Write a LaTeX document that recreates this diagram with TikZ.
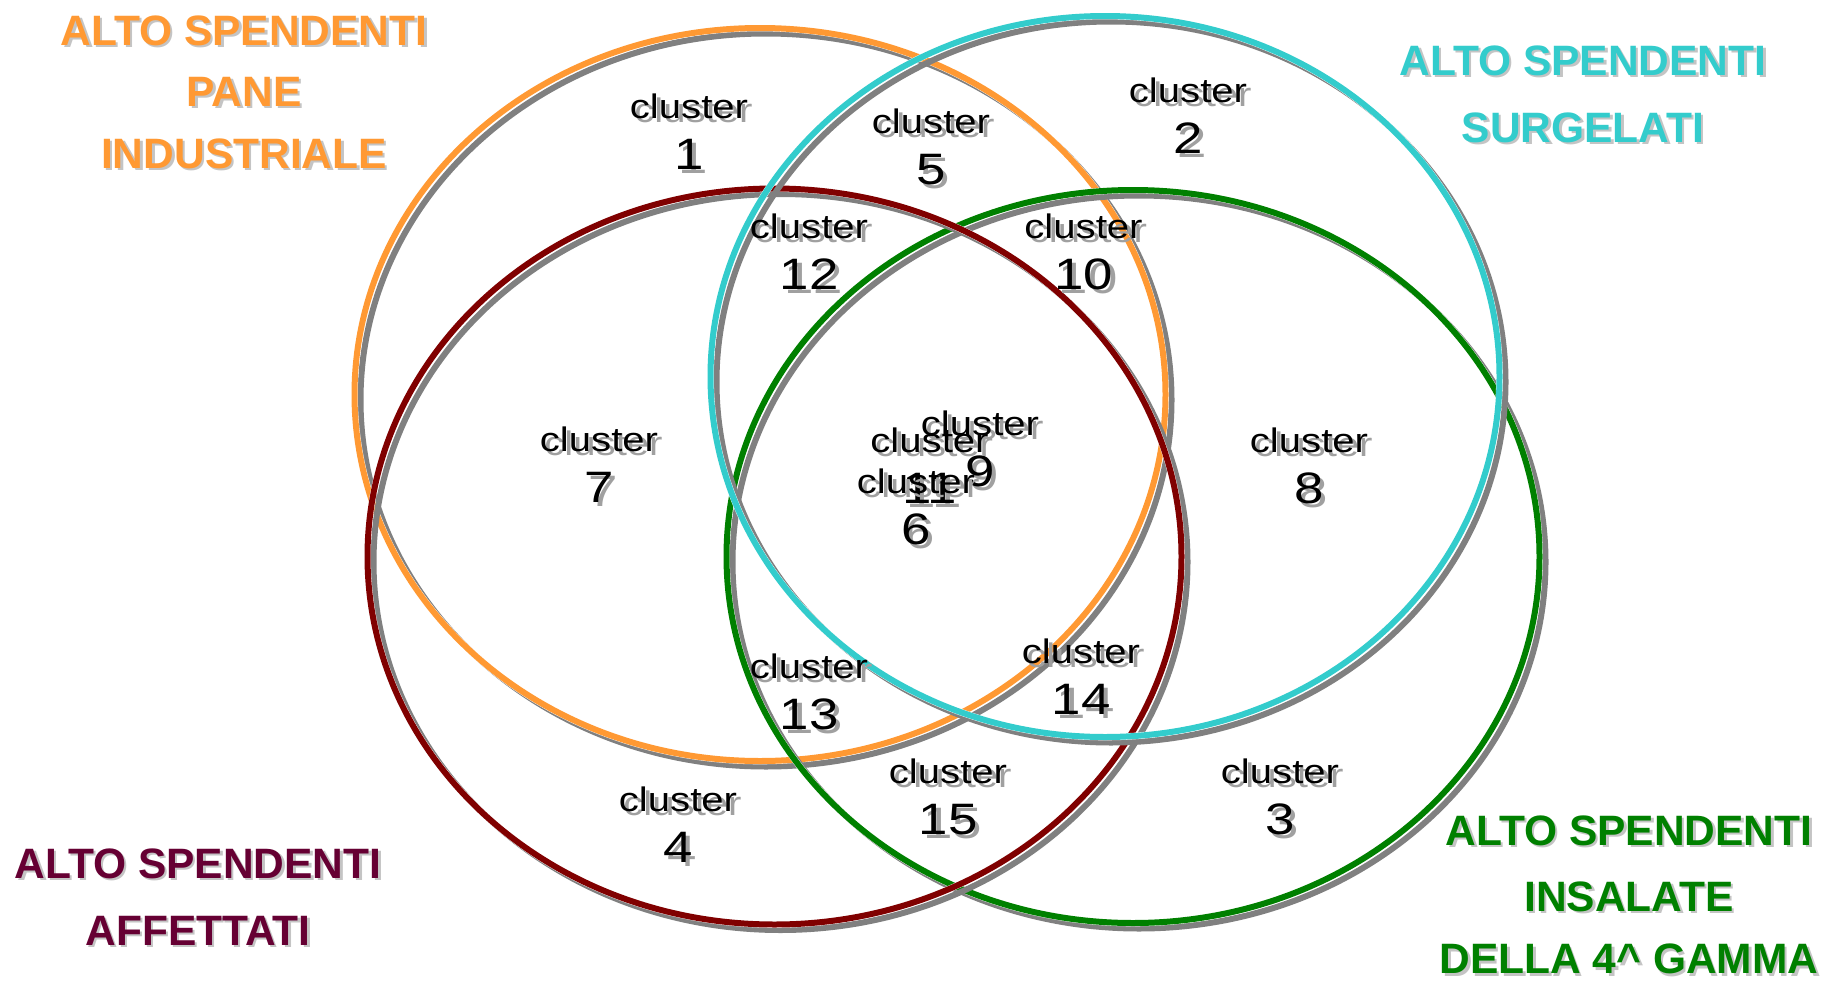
\documentclass[tikz,border=0pt]{standalone}
\usepackage{fontspec}
\setmainfont{Liberation Sans}
\newfontfamily\clusterfont[FakeStretch=1.18]{Liberation Sans}
\newfontfamily\numberfont[FakeStretch=1.2]{Liberation Sans}

\definecolor{paneorange}{HTML}{FF9933}
\definecolor{surgcyan}{HTML}{33CCCC}
\definecolor{insgreen}{HTML}{008000}
\definecolor{affred}{HTML}{800000}
\definecolor{afftext}{HTML}{660033}
\definecolor{ringgray}{HTML}{808080}
\definecolor{wordgray}{HTML}{A0A0A0}
\definecolor{titlegray}{HTML}{C4C4C4}

\tikzset{
  ringshadow/.style={draw=ringgray, line width=6pt},
  ringgap/.style={draw=white, line width=6.6pt},
  ring/.style={line width=6pt},
  word/.style={font=\clusterfont\fontsize{34}{34}\selectfont, inner sep=0pt, anchor=base},
  number/.style={font=\numberfont\fontsize{44}{44}\selectfont, inner sep=0pt, anchor=base},
  heading/.style={font=\fontsize{42.5}{42.5}\selectfont\bfseries, inner sep=0pt, anchor=base},
}

% text with a drop shadow: name, x, y, style, shadow colour, shadow offset, text
\newcommand\shadowtext[7]{%
  \node[#4, text=#5] (#1-sh) at ({#2+#6},{#3+#6}) {#7};
  \node[#4] (#1) at (#2,#3) {#7};}

% one ellipse with its grey drop shadow: colour, cx, cy, rx, ry
\newcommand\shadowring[5]{%
  \draw[ringshadow] ({#2+6},{#3+5.5}) ellipse [x radius=#4pt, y radius=#5pt];
  \draw[ringgap] (#2,#3) ellipse [x radius=#4pt, y radius=#5pt];
  \draw[ring, draw=#1] (#2,#3) ellipse [x radius=#4pt, y radius=#5pt];}

% cluster label: id, x, baseline of the word
\newcommand\clusterlabel[3]{%
  \shadowtext{cw#1}{#2}{#3}{word}{wordgray}{4.5}{cluster}
  \shadowtext{cn#1}{#2}{#3+51}{number}{wordgray}{4.5}{#1}}

\begin{document}
\begin{tikzpicture}[x=1pt, y=-1pt]
\useasboundingbox (0,0) rectangle (1823,980);

% the four sets
\shadowring{paneorange}{760}{394.5}{405.5}{366.5}
\shadowring{insgreen}{1133}{556.5}{406.5}{366.5}
\shadowring{affred}{774.5}{556.5}{407}{368}
\shadowring{surgcyan}{1105}{376.5}{394.5}{360.5}

% set titles
\shadowtext{pane1}{244}{45}{heading, text=paneorange}{titlegray}{2.5}{ALTO SPENDENTI}
\shadowtext{pane2}{244}{106}{heading, text=paneorange}{titlegray}{2.5}{PANE}
\shadowtext{pane3}{244}{168}{heading, text=paneorange}{titlegray}{2.5}{INDUSTRIALE}

\shadowtext{surg1}{1583}{75}{heading, text=surgcyan}{titlegray}{2.5}{ALTO SPENDENTI}
\shadowtext{surg2}{1583}{142}{heading, text=surgcyan}{titlegray}{2.5}{SURGELATI}

\shadowtext{aff1}{198}{878}{heading, text=afftext}{titlegray}{2.5}{ALTO SPENDENTI}
\shadowtext{aff2}{198}{945}{heading, text=afftext}{titlegray}{2.5}{AFFETTATI}

\shadowtext{ins1}{1629}{845}{heading, text=insgreen}{titlegray}{2.5}{ALTO SPENDENTI}
\shadowtext{ins2}{1629}{911}{heading, text=insgreen}{titlegray}{2.5}{INSALATE}
\shadowtext{ins3}{1629}{973.5}{heading, text=insgreen}{titlegray}{2.5}{DELLA 4\^{} GAMMA}

% clusters in each region
\clusterlabel{1}{689}{118}
\clusterlabel{5}{931}{133}
\clusterlabel{2}{1188}{102}
\clusterlabel{12}{809}{238}
\clusterlabel{10}{1083.5}{238}
\clusterlabel{7}{599}{451}
\clusterlabel{8}{1309}{452}
\clusterlabel{9}{980}{435}
\clusterlabel{11}{929.5}{452}
\clusterlabel{6}{916}{493}
\clusterlabel{13}{809}{678}
\clusterlabel{14}{1081}{663}
\clusterlabel{4}{678}{811}
\clusterlabel{15}{948}{783}
\clusterlabel{3}{1280}{783}
\end{tikzpicture}
\end{document}
